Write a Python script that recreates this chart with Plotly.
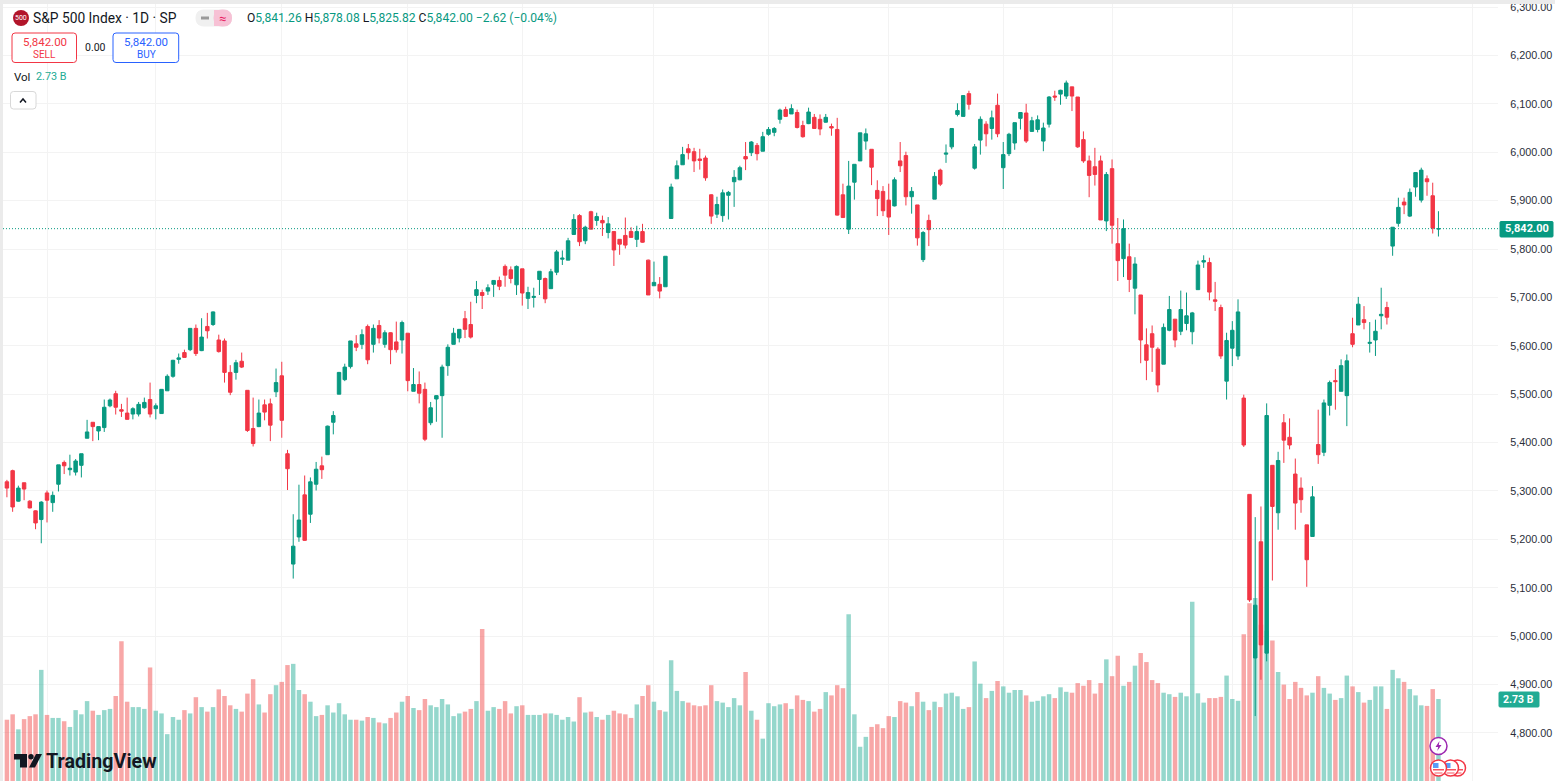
import plotly.graph_objects as go

# S&P 500 daily candles (oldest first)
opens = [5319,5342,5279,5317,5279,5259,5241,5296,5276,5314,5359,5344,5339,5353,5409,5442,5424,5431,5476,5501,
         5468,5461,5459,5459,5472,5489,5470,5460,5507,5537,5572,5586,5592,5636,5590,5640,5644,5612,5610,5545,
         5545,5568,5508,5429,5433,5478,5480,5505,5538,5377,5149,5205,5292,5252,5314,5352,5375,5442,5500,5530,
         5557,5604,5603,5640,5603,5642,5603,5627,5608,5612,5626,5506,5520,5510,5441,5490,5497,5559,5603,5616,
         5656,5644,5704,5710,5713,5727,5735,5764,5757,5726,5759,5698,5700,5737,5739,5718,5752,5779,5777,5830,
         5869,5817,5877,5859,5859,5834,5836,5820,5828,5836,5820,5836,5777,5724,5727,5722,5863,5945,5974,6007,
         6001,5986,5988,5912,5872,5869,5911,5939,5943,5991,5999,6014,6002,6037,6041,6068,6088,6079,6082,6055,
         6059,6072,6068,6062,6053,6047,5912,5841,5938,5982,6023,6006,5921,5919,5901,5889,5982,5993,5908,5891,
         5778,5859,5903,5963,5996,6011,6078,6074,6121,5967,6025,6058,6049,6097,5968,5997,6019,6070,6081,6043,
         6047,6023,6058,6116,6120,6116,6135,6114,6026,5982,5970,5982,5858,5966,5811,5780,5784,5719,5705,5602,
         5625,5593,5562,5632,5655,5630,5646,5629,5716,5773,5772,5695,5679,5527,5595,5579,5492,5293,4955,5195,
         4965,5353,5255,5441,5411,5335,5306,5230,5206,5396,5380,5477,5528,5506,5497,5625,5643,5654,5605,5612,
         5662,5679,5806,5853,5897,5868,5928,5901,5945,5910,5841.26]
highs = [5323,5344,5311,5317,5281,5260,5279,5301,5299,5354,5363,5375,5366,5377,5447,5442,5433,5489,5491,5507,
         5480,5493,5473,5484,5493,5524,5481,5510,5541,5571,5584,5592,5636,5644,5657,5668,5671,5623,5615,5560,
         5571,5586,5508,5493,5489,5489,5491,5553,5567,5385,5252,5313,5332,5328,5360,5371,5435,5465,5546,5563,
         5610,5622,5634,5644,5644,5653,5632,5628,5650,5652,5626,5554,5547,5524,5484,5498,5561,5603,5637,5634,
         5672,5691,5734,5716,5727,5735,5743,5768,5764,5766,5759,5722,5720,5754,5741,5759,5798,5797,5823,5872,
         5872,5848,5879,5875,5869,5866,5836,5820,5865,5845,5848,5852,5778,5774,5742,5785,5935,5983,6011,6017,
         6009,6007,5993,5913,5908,5923,5920,5963,5972,6021,6023,6019,6042,6052,6052,6090,6094,6099,6088,6065,
         6092,6079,6078,6079,6059,6071,5935,5982,5975,6040,6049,6006,5942,5930,5935,5948,6021,6001,5928,5891,
         5837,5871,5959,5966,6016,6050,6101,6118,6127,6017,6074,6064,6086,6121,6021,6040,6061,6083,6100,6073,
         6076,6061,6116,6127,6129,6148,6135,6114,6043,5993,6009,5993,5959,5985,5864,5861,5811,5783,5705,5636,
         5642,5597,5646,5703,5655,5714,5710,5670,5776,5787,5782,5732,5685,5627,5651,5696,5499,5293,5246,5268,
         5481,5353,5381,5459,5450,5367,5328,5230,5310,5468,5489,5528,5552,5572,5582,5658,5701,5682,5649,5654,
         5720,5691,5845,5906,5906,5925,5958,5968,5952,5937,5878.08]
lows = [5287,5257,5278,5281,5264,5221,5192,5235,5257,5299,5335,5332,5332,5328,5409,5403,5405,5422,5473,5458,
        5453,5448,5448,5454,5470,5452,5448,5460,5507,5534,5563,5576,5589,5579,5589,5615,5641,5586,5524,5498,
        5530,5554,5422,5392,5432,5446,5403,5494,5410,5302,5119,5195,5197,5234,5301,5325,5375,5417,5500,5527,
        5553,5589,5593,5562,5586,5605,5596,5562,5586,5584,5506,5506,5481,5403,5436,5443,5410,5538,5603,5607,
        5616,5615,5688,5676,5705,5701,5715,5722,5729,5705,5683,5676,5679,5705,5688,5718,5746,5767,5777,5830,
        5806,5810,5841,5848,5827,5822,5765,5788,5801,5824,5804,5813,5705,5724,5698,5722,5863,5945,5974,5985,
        5959,5964,5941,5852,5864,5856,5861,5887,5942,5963,5992,5983,6002,6034,6033,6059,6074,6079,6049,6030,
        6058,6049,6035,6061,6034,5869,5865,5831,5902,5982,6005,5932,5868,5868,5829,5888,5959,5890,5873,5807,
        5773,5806,5903,5930,5978,6006,6074,6074,6088,5964,5995,6012,6026,6031,5924,5992,6005,6047,6019,6042,
        6041,6002,6051,6106,6098,6110,6085,6009,5978,5907,5931,5860,5837,5811,5734,5742,5711,5665,5564,5529,
        5546,5504,5562,5630,5597,5622,5632,5603,5716,5761,5694,5672,5573,5489,5558,5571,5391,5071,4835,4910,
        4948,5115,5220,5358,5386,5220,5255,5102,5206,5356,5372,5456,5468,5506,5434,5597,5643,5634,5586,5579,
        5634,5644,5786,5846,5872,5866,5908,5896,5910,5832,5825.82]
closes = [5306,5267,5306,5304,5265,5234,5277,5281,5291,5354,5352,5347,5362,5377,5422,5433,5433,5473,5488,5473,
          5465,5448,5470,5479,5483,5459,5476,5510,5537,5570,5575,5576,5636,5584,5618,5631,5670,5588,5545,5504,
          5565,5556,5425,5398,5461,5463,5436,5524,5446,5346,5186,5240,5198,5319,5345,5344,5434,5456,5545,5556,
          5610,5597,5623,5571,5636,5616,5627,5592,5592,5648,5528,5520,5502,5407,5472,5497,5556,5597,5626,5634,
          5634,5618,5716,5704,5720,5735,5723,5746,5739,5764,5709,5710,5702,5754,5697,5753,5794,5781,5817,5861,
          5815,5845,5841,5867,5854,5852,5798,5810,5808,5824,5836,5814,5705,5731,5713,5785,5928,5972,5995,5999,
          5982,5983,5947,5868,5892,5916,5917,5948,5968,5986,6021,5997,6032,6047,6049,6087,6074,6090,6051,6032,
          6083,6049,6048,6072,6050,5870,5865,5930,5975,6040,6038,5969,5904,5879,5866,5943,5972,5908,5919,5823,
          5834,5840,5950,5934,5998,6049,6086,6117,6099,6011,6068,6038,6071,6038,5995,6037,6061,6082,6023,6065,
          6067,6050,6114,6114,6128,6143,6116,6011,5982,5952,5954,5860,5954,5849,5776,5842,5737,5769,5612,5570,
          5597,5519,5638,5675,5612,5675,5662,5668,5767,5776,5711,5692,5579,5611,5632,5670,5395,5075,5064,4982,
          5456,5268,5363,5405,5395,5275,5282,5158,5288,5375,5482,5524,5526,5559,5569,5603,5686,5648,5607,5630,
          5665,5659,5845,5886,5891,5917,5958,5963,5939,5843,5842.00]
# volume in billions
volumes = [2.04,2.22,1.72,2.06,2.16,2.22,3.70,2.20,2.10,2.10,1.99,1.80,2.36,2.22,2.66,2.34,2.20,2.36,2.40,2.83,
           4.65,2.64,2.46,2.46,2.40,3.78,2.34,2.25,1.56,2.13,2.04,2.36,2.25,2.79,2.46,2.31,2.46,3.05,2.83,2.52,
           2.40,2.31,2.91,3.39,2.55,2.28,2.89,3.19,3.30,3.86,3.90,3.03,2.89,2.64,2.16,2.20,2.52,2.28,2.59,2.22,
           2.04,2.04,2.01,2.13,2.10,1.95,1.92,2.10,2.28,2.64,2.83,2.43,2.36,2.73,2.52,2.46,2.73,2.55,2.16,2.25,
           2.31,2.40,2.66,5.06,2.34,2.46,2.40,2.66,2.25,2.49,2.52,2.20,2.20,2.20,2.25,2.25,2.20,2.04,2.13,1.98,
           2.79,2.28,2.31,2.13,2.04,2.20,2.34,2.25,2.22,2.10,2.55,2.83,3.19,2.64,2.36,2.31,4.02,3.00,2.66,2.61,
           2.52,2.49,2.52,3.19,2.66,2.61,2.46,2.76,2.52,3.63,2.34,2.04,1.41,2.59,2.49,2.55,2.59,2.40,2.85,2.70,
           2.66,2.31,2.40,2.96,2.85,3.19,3.09,5.55,2.22,1.14,1.47,1.80,1.89,1.76,2.16,2.13,2.66,2.61,2.49,2.96,
           2.64,2.36,2.64,2.46,2.91,2.94,2.82,2.40,2.46,3.98,3.24,2.76,3.00,3.33,3.15,2.94,3.03,3.03,2.85,2.64,
           2.67,2.82,2.89,2.76,3.12,2.97,2.94,3.26,3.17,3.36,2.91,3.26,4.05,3.49,4.17,3.17,3.30,3.84,4.26,3.96,
           3.36,3.26,2.94,2.89,2.80,2.94,2.82,5.97,2.92,2.61,2.76,2.76,2.80,3.51,2.73,2.67,4.89,5.92,6.09,5.20,
           5.00,4.68,3.63,3.21,2.73,3.30,3.10,2.85,2.94,3.49,3.10,2.91,2.70,2.76,3.51,3.15,2.96,2.61,2.70,3.15,
           3.15,2.40,3.70,3.42,3.30,3.06,2.85,2.52,2.50,3.06,2.73]
month_starts = [7, 26, 48, 70, 90, 113, 133, 154, 174, 193, 214, 235, 256]
price_ticks = [4800, 4900, 5000, 5100, 5200, 5300, 5400, 5500, 5600, 5700, 5800, 5900, 6000, 6100, 6200, 6300]

UP = "#089981"
DOWN = "#F23645"
VOL_UP = "rgba(34,171,148,0.48)"
VOL_DOWN = "rgba(242,80,80,0.5)"
GRID = "#f3f3f3"
INK = "#131722"
FONT = "Roboto"

W, H = 1555, 781
L, T, R, B = 3, 4, 57, 0


def px(x):
    return (x - L) / (W - L - R)


def py(y):
    return 1 - (y - T) / (H - T - B)


def note(x, y, text, size=12, color=INK, anchor="left", **kw):
    return dict(xref="paper", yref="paper", x=px(x), y=py(y), text=text, showarrow=False,
                xanchor=anchor, yanchor="middle", borderpad=0,
                font=dict(family=FONT, size=size, color=color), **kw)


def box(x0, y0, x1, y1, line=None, fill="white", r=3, width=1):
    # rounded rectangle in screen pixels
    p = (f"M{px(x0 + r)},{py(y0)} L{px(x1 - r)},{py(y0)} Q{px(x1)},{py(y0)} {px(x1)},{py(y0 + r)} "
         f"L{px(x1)},{py(y1 - r)} Q{px(x1)},{py(y1)} {px(x1 - r)},{py(y1)} "
         f"L{px(x0 + r)},{py(y1)} Q{px(x0)},{py(y1)} {px(x0)},{py(y1 - r)} "
         f"L{px(x0)},{py(y0 + r)} Q{px(x0)},{py(y0)} {px(x0 + r)},{py(y0)} Z")
    return dict(type="path", xref="paper", yref="paper", path=p, fillcolor=fill,
                line=dict(color=line or fill, width=width), layer="above")


def poly(points, fill):
    p = "M" + " L".join(f"{px(a)},{py(b)}" for a, b in points) + " Z"
    return dict(type="path", xref="paper", yref="paper", path=p, fillcolor=fill,
                line=dict(width=0), layer="above")


def circle(cx, cy, r, line, fill="white", width=1.5):
    return dict(type="circle", xref="paper", yref="paper", x0=px(cx - r), x1=px(cx + r),
                y0=py(cy + r), y1=py(cy - r), fillcolor=fill, line=dict(color=line, width=width),
                layer="above")


def rect(x0, y0, x1, y1, fill):
    return dict(type="rect", xref="paper", yref="paper", x0=px(x0), x1=px(x1), y0=py(y1), y1=py(y0),
                fillcolor=fill, line=dict(width=0), layer="above")


def flag(cx, cy):
    return [circle(cx, cy, 8, DOWN), rect(cx - 5.5, cy + 1, cx + 5.5, cy + 2.5, "#f7525f"),
            rect(cx - 4, cy + 4.5, cx + 4, cy + 5.5, "#f7525f"), rect(cx - 5.5, cy - 5, cx, cy, "#5b9cf6")]


idx = list(range(len(closes)))
vol_colors = [VOL_UP if c >= o else VOL_DOWN for o, c in zip(opens, closes)]

fig = go.Figure()
fig.add_trace(go.Bar(x=idx, y=volumes, marker=dict(color=vol_colors, line=dict(width=0)),
                     yaxis="y", name="Vol", showlegend=False))
fig.add_trace(go.Candlestick(x=idx, open=opens, high=highs, low=lows, close=closes, yaxis="y2",
                             name="S&P 500", showlegend=False,
                             increasing=dict(line=dict(color=UP, width=1), fillcolor=UP),
                             decreasing=dict(line=dict(color=DOWN, width=1), fillcolor=DOWN),
                             whiskerwidth=0))

shapes = [
    dict(type="line", xref="paper", x0=0, x1=1, yref="y2", y0=closes[-1], y1=closes[-1],
         line=dict(color=UP, width=1, dash="1px,2px")),
    rect(0, 0, 1555, 4, "#ebebeb"),
    rect(0, 0, 3, 781, "#ebebeb"),
    box(12, 33, 76.5, 62.5, line=DOWN),
    box(113, 33, 178.7, 62.5, line="#2962ff"),
    box(10.5, 91.5, 36, 109, line="#d8d8d8"),
    circle(21, 18, 8, DOWN, fill="#b2152a", width=0),
    box(196, 10, 231.5, 26, fill="#f0f0f0", r=8),
    box(214, 10, 231.5, 26, fill="#f7c1d5", r=8),
    rect(214, 10, 220, 26, "#f7c1d5"),
    rect(201, 16.5, 209, 19.5, "#9a9a9a"),
    box(1500, 221.5, 1553, 237, fill=UP, r=1),
    box(1499, 692, 1539, 707, fill="#22ab94", r=1),
    # chevron
    dict(type="path", xref="paper", yref="paper", layer="above", line=dict(color=INK, width=1.5),
         path=f"M{px(20)},{py(102.5)} L{px(23)},{py(99)} L{px(26)},{py(102.5)}"),
    # TradingView mark
    poly([(14, 754), (27, 754), (27, 767.5), (20, 767.5), (20, 759.5), (14, 759.5)], "#131722"),
    circle(31, 756.7, 2.7, "#131722", fill="#131722", width=0),
    poly([(36, 754), (42, 754), (35, 767.5), (29, 767.5)], "#131722"),
    # upcoming event markers
    circle(1438.5, 746, 8.5, "#9c27b0"),
    poly([(1439.5, 741), (1435.5, 747), (1438.2, 747), (1437.2, 751), (1441.5, 745), (1438.8, 745)], "#9c27b0"),
] + flag(1457.5, 768) + flag(1450.5, 768) + flag(1438.5, 768)

v = f'<span style="color:{UP}">'
ohlc = (f'O{v}5,841.26</span> H{v}5,878.08</span> L{v}5,825.82</span> '
        f'C{v}5,842.00 \u22122.62 (\u22120.04%)</span>')
annotations = [
    note(21, 18, "500", size=7, color="white", anchor="center"),
    note(32, 18, "S&amp;P 500 Index \u00b7 1D \u00b7 SP", size=13.8),
    note(222.5, 18, "\u2248", size=13, color="#e91e63", anchor="center"),
    note(245.5, 18, ohlc, size=12.1),
    note(44.5, 42, "5,842.00", size=11.5, color=DOWN, anchor="center"),
    note(44.5, 55, "SELL", size=10, color=DOWN, anchor="center"),
    note(95, 47, "0.00", size=10.5, anchor="center"),
    note(146, 42, "5,842.00", size=11.5, color="#2962ff", anchor="center"),
    note(146, 55, "BUY", size=10, color="#2962ff", anchor="center"),
    note(12.5, 77, "Vol", size=11.5),
    note(35, 77, "2.73 B", size=10.8, color="#22ab94"),
    note(1526.5, 229, "<b>5,842.00</b>", size=11, color="white", anchor="center"),
    note(1519, 699.5, "<b>2.73 B</b>", size=10.5, color="white", anchor="center"),
    note(45, 761, "<b>TradingView</b>", size=19.7, color="#131722"),
]

fig.update_layout(
    width=W, height=H,
    margin=dict(l=L, r=R, t=T, b=B, autoexpand=False),
    paper_bgcolor="#ffffff",
    plot_bgcolor="#ffffff",
    showlegend=False,
    bargap=0.22,
    boxgap=0.14,
    font=dict(family=FONT, size=11.5, color="#2a2e39"),
    xaxis=dict(range=[-0.684, 260.4], tickvals=month_starts, showticklabels=False, ticks="",
               showgrid=True, gridcolor=GRID, gridwidth=1, zeroline=False,
               rangeslider=dict(visible=False), showline=False),
    yaxis=dict(range=[0, 25.87], showgrid=False, showticklabels=False, zeroline=False, ticks=""),
    yaxis2=dict(range=[4700.8, 6306.2], overlaying="y", side="right", tickvals=price_ticks,
                tickformat=",.2f", showgrid=True, gridcolor=GRID, gridwidth=1, zeroline=False,
                ticks="outside", ticklen=9, tickcolor="rgba(255,255,255,0)", showline=False,
                tickfont=dict(family="Liberation Sans", size=10.8, color="#2a2e39")),
    shapes=shapes,
    annotations=annotations,
)

fig.write_html("out.html", config={"displayModeBar": False},
               post_script="document.body.style.margin='0';document.body.style.overflow='hidden';")
